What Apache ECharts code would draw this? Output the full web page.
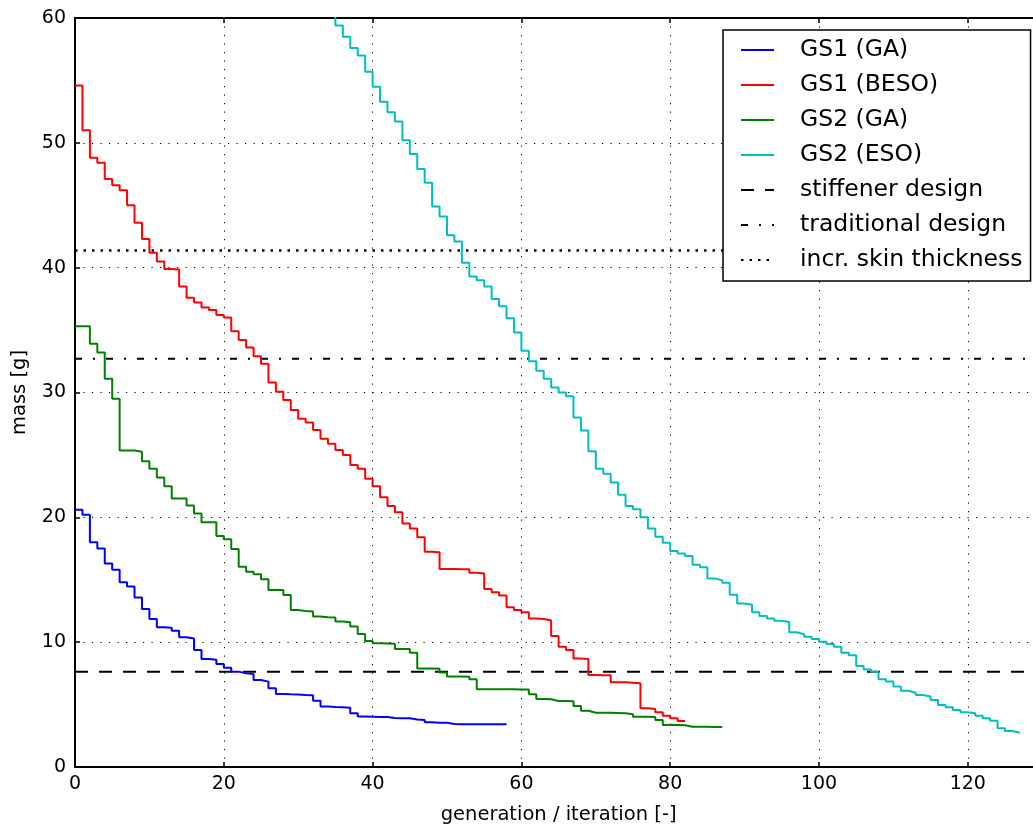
<!DOCTYPE html>
<html>
<head>
<meta charset="utf-8">
<script src="https://cdn.jsdelivr.net/npm/echarts@6/dist/echarts.min.js"></script>
<style>
  html, body { margin: 0; padding: 0; background: #fff; overflow: hidden; }
  #main { width: 1048px; height: 827px; }
</style>
</head>
<body>
<div id="main"></div>
<script>
// mass [g] per generation / iteration (index = x)
var gs1GaMass = [20.6, 20.2, 18.0, 17.5, 16.3, 15.8, 14.8, 14.45, 13.57, 12.66,
  11.86, 11.2, 11.15, 10.92, 10.4, 10.3, 9.37, 8.65, 8.6, 8.25,
  7.96, 7.64, 7.5, 7.45, 6.97, 6.84, 6.3, 5.85, 5.82, 5.8,
  5.76, 5.74, 5.31, 4.85, 4.8, 4.78, 4.75, 4.3, 4.05, 4.03,
  4.0, 4.0, 3.92, 3.9, 3.9, 3.8, 3.77, 3.58, 3.55, 3.55,
  3.45, 3.43, 3.42, 3.42, 3.42, 3.42, 3.42, 3.42, 3.42];
var gs1BesoMass = [54.6, 51.0, 48.8, 48.4, 47.1, 46.6, 46.2, 45.0, 43.6, 42.3,
  41.2, 40.5, 39.9, 39.85, 38.5, 37.6, 37.2, 36.8, 36.6, 36.2,
  36.0, 34.9, 34.2, 33.6, 32.9, 32.3, 30.8, 30.07, 29.4, 28.6,
  27.9, 27.6, 27.0, 26.3, 25.9, 25.4, 25.0, 24.2, 23.9, 23.1,
  22.5, 21.6, 20.9, 20.4, 19.5, 19.1, 18.4, 17.25, 17.2, 15.87,
  15.87, 15.85, 15.85, 15.57, 15.5, 14.26, 14.0, 13.73, 12.8, 12.58,
  12.4, 11.9, 11.85, 11.73, 10.5, 9.64, 9.37, 8.7, 8.65, 7.37,
  7.35, 7.35, 6.79, 6.79, 6.75, 6.7, 4.7, 4.65, 4.38, 4.11,
  3.9, 3.69, 3.69];
var gs2GaMass = [35.3, 35.3, 33.9, 33.2, 31.1, 29.5, 25.35, 25.35, 25.26, 24.5,
  23.9, 23.2, 22.5, 21.5, 21.5, 20.95, 20.3, 19.6, 19.6, 18.5,
  18.25, 17.47, 16.05, 15.65, 15.44, 15.04, 14.18, 14.18, 13.78, 12.58,
  12.5, 12.45, 12.05, 12.0, 11.98, 11.65, 11.6, 11.25, 10.66, 10.1,
  9.91, 9.9, 9.88, 9.45, 9.45, 9.16, 7.9, 7.9, 7.88, 7.58,
  7.24, 7.24, 7.22, 7.03, 6.22, 6.22, 6.22, 6.22, 6.22, 6.2,
  6.2, 5.82, 5.45, 5.43, 5.29, 5.28, 5.26, 4.89, 4.51, 4.35,
  4.35, 4.34, 4.33, 4.3, 4.22, 4.03, 4.02, 4.0, 3.77, 3.37,
  3.36, 3.35, 3.23, 3.23, 3.22, 3.2, 3.2, 3.2];
// ESO curve starts above the axis range; first listed iteration:
var gs2EsoStart = 34;
var gs2EsoMass = [60.5, 59.4, 58.5, 57.6, 57.0, 55.7, 54.5, 53.3, 52.45, 51.7,
  50.2, 49.1, 47.9, 46.8, 44.9, 44.1, 42.6, 42.1, 40.4, 39.3,
  39.0, 38.5, 37.5, 36.9, 35.95, 34.8, 33.35, 32.5, 31.75, 31.1,
  30.4, 30.0, 29.7, 28.0, 26.95, 25.3, 23.9, 23.5, 22.8, 21.8,
  20.9, 20.65, 20.0, 19.1, 18.45, 17.97, 17.3, 17.1, 16.9, 16.2,
  16.0, 15.1, 14.95, 14.75, 13.8, 13.1, 13.0, 12.4, 12.1, 11.9,
  11.72, 11.62, 10.79, 10.63, 10.44, 10.26, 10.04, 9.86, 9.64, 9.16,
  8.95, 8.09, 7.82, 7.64, 7.03, 6.84, 6.44, 6.11, 5.95, 5.77,
  5.64, 5.37, 4.97, 4.78, 4.57, 4.38, 4.3, 4.11, 3.9, 3.71,
  3.1, 2.88, 2.75, 2.7];

// reference designs (horizontal lines)
var stiffenerMass = 7.64;
var traditionalMass = 32.7;
var skinMass = 41.37;

var xMax = 130;

function toPairs(arr, start) {
  var out = [];
  for (var i = 0; i < arr.length; i++) {
    out.push([start + i, arr[i]]);
  }
  return out;
}
function hline(v) {
  return [[0, v], [xMax, v]];
}

var font = 'DejaVu Sans';
var myChart = echarts.init(document.getElementById('main'), null, {renderer: 'canvas'});

function stepSeries(name, data, color) {
  return {
    name: name,
    type: 'line',
    step: 'end',
    data: data,
    symbol: 'none',
    showSymbol: false,
    clip: true,
    lineStyle: {color: color, width: 2},
    itemStyle: {color: color},
    z: 3
  };
}
function refSeries(name, v, dash, width) {
  return {
    name: name,
    type: 'line',
    data: hline(v),
    symbol: 'none',
    showSymbol: false,
    lineStyle: {color: '#000', width: width, type: dash},
    itemStyle: {color: '#000'},
    z: 2
  };
}

var gridDots = {color: '#000', width: 1, type: [1.2, 7.3]};
var tickStyle = {show: true, inside: true, length: 5, lineStyle: {color: '#000', width: 1.5}};

var option = {
  animation: false,
  backgroundColor: '#fff',
  grid: {
    left: 75,
    top: 18,
    width: xMax * 7.44,
    height: 749,
    outerBoundsMode: 'none',
    containLabel: false,
    show: true,
    borderColor: '#000',
    borderWidth: 2,
    backgroundColor: 'transparent'
  },
  legend: {
    orient: 'vertical',
    left: 723,
    top: 30,
    padding: [7, 8, 8, 17],
    itemWidth: 33,
    itemHeight: 14,
    itemGap: 9,
    backgroundColor: '#fff',
    borderColor: '#000',
    borderWidth: 1.5,
    borderRadius: 0,
    itemStyle: {color: 'transparent', borderColor: 'transparent', borderWidth: 0},
    textStyle: {fontFamily: font, fontSize: 23.5, color: '#000', lineHeight: 26, padding: [0, 0, 0, 21]},
    data: ['GS1 (GA)', 'GS1 (BESO)', 'GS2 (GA)', 'GS2 (ESO)', 'stiffener design', 'traditional design', 'incr. skin thickness']
  },
  xAxis: [{
    type: 'value',
    min: 0,
    max: xMax,
    interval: 20,
    name: 'generation / iteration [-]',
    nameLocation: 'middle',
    nameGap: 38,
    nameTextStyle: {fontFamily: font, fontSize: 19.5, color: '#000'},
    axisLine: {show: true, lineStyle: {color: '#000', width: 2}},
    axisTick: tickStyle,
    axisLabel: {fontFamily: font, fontSize: 19, color: '#000', margin: 8, showMaxLabel: false},
    splitLine: {show: true, lineStyle: gridDots}
  }, {
    type: 'value',
    position: 'top',
    min: 0,
    max: xMax,
    interval: 20,
    axisLine: {show: true, lineStyle: {color: '#000', width: 2}},
    axisTick: tickStyle,
    axisLabel: {show: false},
    splitLine: {show: false}
  }],
  yAxis: {
    type: 'value',
    min: 0,
    max: 60,
    interval: 10,
    name: 'mass [g]',
    nameLocation: 'middle',
    nameGap: 45,
    nameTextStyle: {fontFamily: font, fontSize: 19.5, color: '#000'},
    axisLine: {show: true, lineStyle: {color: '#000', width: 2}},
    axisTick: tickStyle,
    axisLabel: {fontFamily: font, fontSize: 19, color: '#000', margin: 9},
    splitLine: {show: true, lineStyle: gridDots}
  },
  series: [
    stepSeries('GS1 (GA)', toPairs(gs1GaMass, 0), '#0000ff'),
    stepSeries('GS1 (BESO)', toPairs(gs1BesoMass, 0), '#ff0000'),
    stepSeries('GS2 (GA)', toPairs(gs2GaMass, 0), '#008000'),
    stepSeries('GS2 (ESO)', toPairs(gs2EsoMass, gs2EsoStart), '#00bfbf'),
    refSeries('stiffener design', stiffenerMass, [13, 11], 2),
    refSeries('traditional design', traditionalMass, [7, 11, 2, 11], 2),
    refSeries('incr. skin thickness', skinMass, [2.5, 6], 2.5)
  ]
};
myChart.setOption(option);
</script>
</body>
</html>
